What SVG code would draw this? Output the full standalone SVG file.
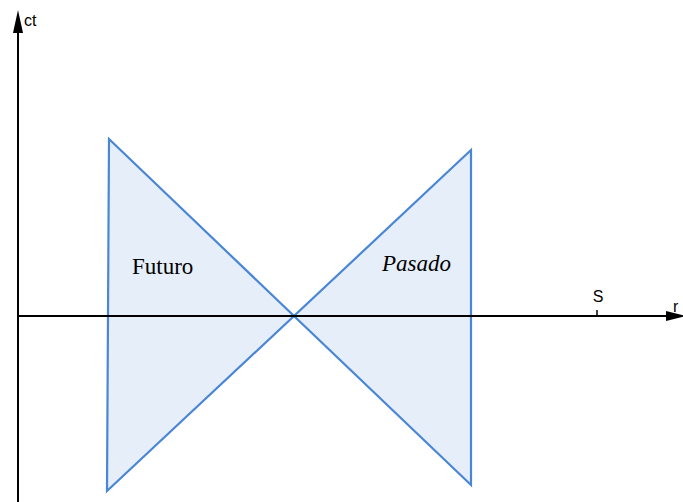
<svg xmlns="http://www.w3.org/2000/svg" width="683" height="502" viewBox="0 0 683 502">
<style>
.cone{fill:#e6eef9;stroke:#4a86d6;stroke-width:2.2;stroke-linejoin:miter}
.axis{stroke:#000;stroke-width:2;fill:none}
.lbl{font-family:"Liberation Sans",Arial,sans-serif;font-size:16px;fill:#000}
.reg{font-family:"Liberation Serif","Times New Roman",serif;font-size:23px;fill:#000}
</style>
<rect width="683" height="502" fill="#fff"/>
<g id="futuro">
<polygon class="cone" points="109,139 294,316 107,491"/>
<text class="reg" x="132" y="274">Futuro</text>
</g>
<g id="pasado">
<polygon class="cone" points="471,150 294,316 471,485"/>
<text class="reg" x="382" y="271" font-style="italic">Pasado</text>
</g>
<g id="axes">
<line class="axis" x1="18" y1="30" x2="18" y2="502"/>
<polygon points="18,10 13,33 23,33" fill="#000"/>
<text class="lbl" x="24" y="26">ct</text>
<line class="axis" x1="18" y1="316" x2="667" y2="316"/>
<polygon points="686,316 666,311 666,321" fill="#000"/>
<text class="lbl" x="673" y="312">r</text>
<line stroke="#000" stroke-width="1.5" x1="597" y1="310" x2="597" y2="316"/>
<text class="lbl" x="598" y="302" text-anchor="middle">S</text>
</g>
</svg>
